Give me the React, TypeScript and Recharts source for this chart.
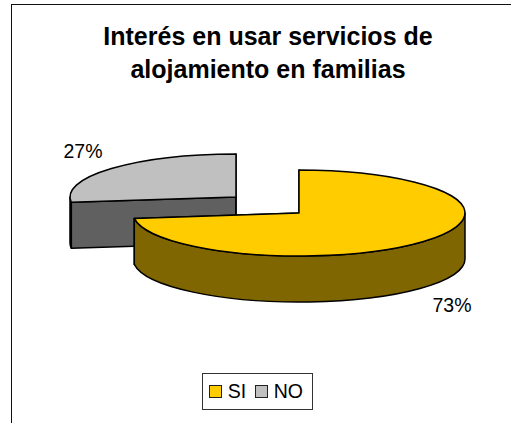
import React from "react";
import { Pie, PieChart } from "recharts";

// values
const categories = ["SI", "NO"];
const shares = [73, 27];
const topColors = ["#FFCC00", "#C0C0C0"];
const sideColors = ["#806600", "#606060"];
const explode = [0, 84];

const WIDTH = 511;
const HEIGHT = 423;
const RX = 166;
const SQUASH = 43 / 166;
const EXPLODE_SQUASH = 0.29;
const DEPTH = 46;
const RAD = Math.PI / 180;

// NO goes first so that SI is painted over it, the way the 3D pie overlaps
const table = categories
  .map((name, i) => ({
    name,
    value: shares[i],
    fill: topColors[i],
    side: sideColors[i],
    explode: explode[i],
  }))
  .reverse();

const noStart = 90 - (shares[0] / (shares[0] + shares[1])) * 360;

const midOf = (p: any) => (p.startAngle + p.endAngle) / 2;

const Slice3D = (p: any) => {
  const mid = midOf(p) * RAD;
  const cx = p.cx + p.explode * Math.cos(mid);
  const cy = p.cy - p.explode * Math.sin(mid) * EXPLODE_SQUASH;
  const r = p.outerRadius;
  const ry = r * SQUASH;
  const at = (deg: number) => [cx + r * Math.cos(deg * RAD), cy - ry * Math.sin(deg * RAD)];
  const hi = Math.max(p.startAngle, p.endAngle);
  const lo = Math.min(p.startAngle, p.endAngle);
  const large = hi - lo > 180 ? 1 : 0;
  const [x1, y1] = at(hi);
  const [x2, y2] = at(lo);
  const top = `M${cx},${cy} L${x1},${y1} A${r},${ry} 0 ${large} 1 ${x2},${y2} Z`;

  // cut walls, seen only when they face the viewer
  const walls = [hi, lo].map((deg) => {
    const [x, y] = at(deg);
    return `M${cx},${cy} L${x},${y} L${x},${y + DEPTH} L${cx},${cy + DEPTH} Z`;
  });

  // outer rim: the part of the arc on the lower half of the ellipse
  const rims: string[] = [];
  for (let k = -2; k <= 0; k++) {
    const a = Math.max(lo, -180 + k * 360);
    const b = Math.min(hi, k * 360);
    if (b > a) {
      const [ax, ay] = at(b);
      const [bx, by] = at(a);
      rims.push(
        `M${ax},${ay} A${r},${ry} 0 0 1 ${bx},${by} L${bx},${by + DEPTH} A${r},${ry} 0 0 0 ${ax},${ay + DEPTH} Z`,
      );
    }
  }

  return (
    <g stroke="#000" strokeWidth={1.5} strokeLinejoin="round">
      {walls.map((d) => (
        <path key={d} d={d} fill={p.side} />
      ))}
      {rims.map((d) => (
        <path key={d} d={d} fill={p.side} />
      ))}
      <path d={top} fill={p.fill} />
    </g>
  );
};

const PercentLabel = (p: any) => {
  const mid = midOf(p) * RAD;
  const cx = p.cx + p.explode * Math.cos(mid);
  const cy = p.cy - p.explode * Math.sin(mid) * EXPLODE_SQUASH;
  const below = Math.sin(mid) < 0;
  return (
    <text
      x={cx + 204 * Math.cos(mid)}
      y={cy - 70 * Math.sin(mid) + (below ? DEPTH : 0)}
      textAnchor="middle"
      dominantBaseline="central"
      fontFamily="Liberation Sans"
      fontSize={19.5}
      fill="#000"
    >
      {p.value}%
    </text>
  );
};

const BoxedLegend = () => (
  <div
    style={{
      position: "absolute",
      left: 202,
      top: 373,
      display: "flex",
      alignItems: "center",
      boxSizing: "border-box",
      width: 111,
      height: 37,
      border: "1px solid #333",
      background: "#fff",
      fontFamily: "Liberation Sans",
      fontSize: 19.5,
      color: "#000",
      paddingLeft: 6,
    }}
  >
    {categories.map((name, i) => (
      <React.Fragment key={name}>
        <span
          style={{
            boxSizing: "border-box",
            width: 13,
            height: 13,
            border: "1.5px solid #222",
            background: topColors[i],
            marginRight: 6,
          }}
        />
        <span style={{ marginRight: 9 }}>{name}</span>
      </React.Fragment>
    ))}
  </div>
);

export default function App() {
  return (
    <div style={{ position: "absolute", left: 0, top: 0, width: WIDTH, height: HEIGHT, overflow: "hidden", background: "#fff" }}>
      <div
        style={{
          position: "absolute",
          left: 11,
          top: 4,
          width: WIDTH,
          height: HEIGHT,
          borderLeft: "1.5px solid #111",
          borderTop: "1.5px solid #111",
        }}
      />
      <div
        style={{
          position: "absolute",
          left: 0,
          top: 20,
          width: 536,
          textAlign: "center",
          fontFamily: "Liberation Sans",
          fontWeight: "bold",
          fontSize: 25,
          lineHeight: "33px",
          color: "#000",
        }}
      >
        Interés en usar servicios de
        <br />
        alojamiento en familias
      </div>
      <PieChart width={WIDTH} height={HEIGHT} margin={{ top: 0, right: 0, bottom: 0, left: 0 }} style={{ position: "absolute", left: 0, top: 0 }}>
        <Pie
          data={table}
          dataKey="value"
          nameKey="name"
          cx={299}
          cy={213}
          outerRadius={RX}
          startAngle={noStart}
          endAngle={noStart - 360}
          shape={Slice3D}
          label={PercentLabel}
          labelLine={false}
          isAnimationActive={false}
          rootTabIndex={-1}
        />
      </PieChart>
      <BoxedLegend />
    </div>
  );
}
